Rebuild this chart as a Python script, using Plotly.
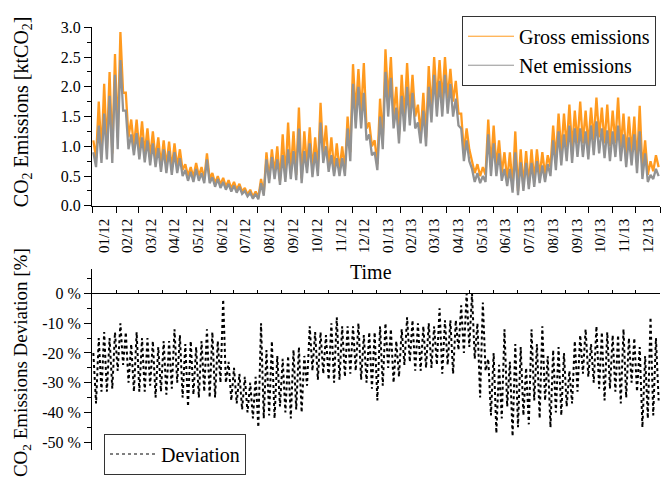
import numpy as np
import pandas as pd
import plotly.graph_objects as go

# Weekly extremes (high / low) of the hourly emission series, 2012-2013 (105 weeks)
gross_hi = [1.1, 1.75, 2.05, 2.25, 2.55, 2.92, 1.9, 1.45, 1.45, 1.42, 1.3, 1.25, 1.15, 1.1, 1.08, 1.05, 0.95,
            0.7, 0.65, 0.72, 0.65, 0.88, 0.55, 0.5, 0.47, 0.43, 0.4, 0.37, 0.3, 0.27, 0.24, 0.45, 0.9, 0.95,
            1.0, 1.2, 1.4, 1.25, 1.65, 1.25, 1.32, 1.15, 1.73, 1.35, 1.15, 1.05, 1.0, 1.5, 2.38, 2.3, 2.4,
            1.4, 1.1, 1.8, 2.63, 2.5, 2.0, 2.2, 2.4, 2.2, 1.7, 1.9, 2.35, 2.5, 2.45, 2.5, 2.3, 2.1, 1.55,
            1.3, 0.75, 0.7, 0.65, 1.45, 1.35, 1.1, 0.9, 0.9, 1.25, 0.95, 0.92, 0.95, 0.95, 0.9, 0.85, 1.35,
            1.55, 1.55, 1.7, 1.6, 1.75, 1.6, 1.65, 1.82, 1.65, 1.7, 1.6, 1.82, 1.55, 1.5, 1.5, 1.68, 1.1,
            0.75, 0.85]
gross_lo = [0.8, 0.88, 0.95, 0.88, 1.15, 1.9, 1.15, 1.0, 0.92, 0.88, 0.82, 0.78, 0.68, 0.66, 0.62, 0.65, 0.6,
            0.5, 0.48, 0.5, 0.45, 0.45, 0.38, 0.36, 0.32, 0.29, 0.27, 0.24, 0.19, 0.15, 0.14, 0.2, 0.45, 0.55,
            0.42, 0.48, 0.55, 0.52, 0.46, 0.66, 0.58, 0.6, 0.85, 0.68, 0.6, 0.6, 0.6, 0.9, 1.55, 1.55, 1.3,
            1.0, 0.7, 1.1, 1.75, 1.5, 1.2, 1.45, 1.55, 1.5, 1.2, 1.15, 1.6, 1.75, 1.75, 1.8, 1.75, 1.55, 0.9,
            0.95, 0.55, 0.5, 0.52, 0.65, 0.65, 0.55, 0.42, 0.3, 0.25, 0.33, 0.36, 0.42, 0.5, 0.52, 0.65, 0.78,
            0.9, 0.98, 0.95, 1.05, 1.05, 1.0, 1.1, 1.15, 1.05, 1.0, 1.05, 0.98, 0.85, 0.88, 0.72, 0.6, 0.52,
            0.58, 0.65]
net_hi = [0.9, 1.35, 1.55, 1.85, 2.2, 2.45, 1.6, 1.2, 1.22, 1.15, 1.1, 1.05, 0.97, 0.95, 0.92, 0.9, 0.8,
          0.6, 0.57, 0.62, 0.55, 0.78, 0.48, 0.45, 0.4, 0.37, 0.34, 0.32, 0.25, 0.22, 0.2, 0.38, 0.78, 0.82,
          0.78, 0.85, 0.95, 0.92, 1.3, 0.92, 1.05, 0.9, 1.4, 1.0, 0.85, 0.8, 0.8, 1.3, 2.05, 2.0, 1.9,
          1.2, 0.9, 1.5, 2.25, 2.15, 1.65, 1.85, 2.0, 1.9, 1.4, 1.6, 2.0, 2.2, 2.1, 2.2, 2.05, 1.8, 1.3,
          1.1, 0.62, 0.55, 0.5, 1.2, 1.05, 0.88, 0.62, 0.62, 0.9, 0.73, 0.72, 0.72, 0.75, 0.68, 0.7, 1.1,
          1.25, 1.2, 1.35, 1.3, 1.3, 1.25, 1.35, 1.42, 1.3, 1.27, 1.25, 1.35, 1.2, 1.15, 1.2, 1.25, 0.88,
          0.52, 0.62]
net_lo = [0.65, 0.72, 0.78, 0.72, 0.95, 1.6, 0.95, 0.85, 0.78, 0.73, 0.68, 0.65, 0.57, 0.55, 0.52, 0.55, 0.5,
          0.42, 0.4, 0.42, 0.38, 0.38, 0.32, 0.3, 0.27, 0.24, 0.22, 0.2, 0.16, 0.12, 0.11, 0.17, 0.38, 0.45,
          0.35, 0.4, 0.45, 0.43, 0.38, 0.55, 0.48, 0.5, 0.72, 0.57, 0.5, 0.5, 0.5, 0.75, 1.3, 1.3, 1.1,
          0.85, 0.6, 0.95, 1.5, 1.3, 1.05, 1.25, 1.35, 1.3, 1.05, 1.0, 1.4, 1.5, 1.5, 1.55, 1.5, 1.35, 0.75,
          0.75, 0.4, 0.38, 0.4, 0.5, 0.5, 0.42, 0.33, 0.22, 0.18, 0.25, 0.28, 0.32, 0.38, 0.4, 0.5, 0.6,
          0.68, 0.75, 0.72, 0.82, 0.82, 0.78, 0.85, 0.88, 0.8, 0.75, 0.82, 0.75, 0.65, 0.68, 0.55, 0.45, 0.4,
          0.45, 0.5]
# Weekly extremes of the net/gross deviation in percent
dev_hi = [-20, -15, -13, -15, -13, -10, -13, -17, -13, -15, -15, -16, -18, -16, -16, -12, -14, -17, -16,
          -18, -16, -12, -13, -16, -2, -23, -25, -27, -28, -30, -28, -10, -19, -16, -21, -22, -21, -19,
          -18, -21, -11, -13, -13, -14, -10, -8, -11, -11, -11, -10, -14, -13, -13,
          -11, -10, -12, -16, -12, -8, -9, -10, -11, -10, -11, -5, -9, -9, -9, -4, 0, 0, -10, -3, -22,
          -20, -24, -12, -23, -17, -18, -25, -12, -17, -11, -21, -19, -18, -20, -26, -16, -14, -12, -17,
          -11, -13, -13, -14, -14, -12, -15, -15, -18, -21, -8, -15]
dev_lo = [-37, -33, -33, -32, -26, -24, -30, -33, -33, -33, -31, -35, -33, -34, -32, -30, -35, -38, -34,
          -35, -33, -35, -35, -30, -30, -36, -37, -39, -40, -42, -45, -42, -41, -42, -38, -40, -42, -39,
          -40, -31, -26, -29, -27, -29, -30, -29, -28, -27, -26, -29, -30, -32, -36,
          -31, -25, -30, -28, -24, -23, -26, -26, -25, -25, -24, -27, -24, -27, -19, -20, -18, -22, -35,
          -26, -41, -47, -42, -38, -48, -45, -41, -44, -36, -42, -36, -45, -40, -41, -38, -37, -33, -27,
          -28, -30, -32, -36, -32, -33, -37, -35, -30, -33, -45, -42, -41, -36]

emis_ticks = [0.0, 0.5, 1.0, 1.5, 2.0, 2.5, 3.0]
emis_labels = ["0.0", "0.5", "1.0", "1.5", "2.0", "2.5", "3.0"]
dev_ticks = [-50, -40, -30, -20, -10, 0]
dev_labels = ["-50 %", "-40 %", "-30 %", "-20 %", "-10 %", "0 %"]

START, END = "2012-01-01", "2014-01-01"


def zigzag(hi, lo):
    """Interleave weekly high/low values along the two-year time line."""
    vals = np.column_stack([hi, lo]).ravel()
    n = len(vals)
    span = (pd.Timestamp(END) - pd.Timestamp(START)).total_seconds()
    offs = (np.arange(n) + 0.5) / n * span
    t = pd.Timestamp(START) + pd.to_timedelta(offs, unit="s")
    return t, vals


W, H = 662, 484
FONT = "Liberation Serif"

# plot-area geometry (pixels)
L, R = 92, 660
T1, B1 = 20, 205
T2, B2 = 270, 458
DEV_RANGE = [-52.6, 8.4]

fig = go.Figure()
for hi, lo, name, color, width, dash, legend, xa, ya in [
    (gross_hi, gross_lo, "Gross emissions", "#FF9A1F", 2.3, "solid", "legend", "x", "y"),
    (net_hi, net_lo, "Net emissions", "#929292", 2.3, "solid", "legend", "x", "y"),
    (dev_hi, dev_lo, "Deviation", "#000000", 2.0, "dot", "legend2", "x2", "y2"),
]:
    t, v = zigzag(hi, lo)
    fig.add_trace(go.Scatter(x=t, y=v, mode="lines", showlegend=False,
                             line=dict(color=color, width=width, dash=dash),
                             xaxis=xa, yaxis=ya))
    # thin legend key for the series
    fig.add_trace(go.Scatter(x=[None], y=[None], mode="lines", name=name, legend=legend,
                             line=dict(color=color, width=1, dash=dash),
                             xaxis=xa, yaxis=ya))

ydom1 = [1 - B1 / H, 1 - T1 / H]
ydom2 = [1 - B2 / H, 1 - T2 / H]
zero_pos = ydom2[0] + (0 - DEV_RANGE[0]) / (DEV_RANGE[1] - DEV_RANGE[0]) * (ydom2[1] - ydom2[0])

axis_font = dict(family=FONT, size=16, color="black")

fig.update_layout(
    width=W, height=H,
    margin=dict(l=0, r=0, t=0, b=0),
    paper_bgcolor="white", plot_bgcolor="white",
    font=dict(family=FONT, color="black"),
    xaxis=dict(domain=[L / W, R / W], range=[START, END], anchor="y",
               showline=True, linecolor="black", linewidth=1, mirror=False,
               showgrid=False, zeroline=False,
               ticks="outside", ticklen=6, tickcolor="black",
               dtick="M1", tick0=START, tickformat="%m/%y", ticklabelmode="period",
               tickangle=-90, tickfont=dict(family=FONT, size=15, color="black")),
    yaxis=dict(domain=ydom1, range=[0, 3.0], anchor="x",
               showline=True, linecolor="black", linewidth=1,
               showgrid=False, zeroline=False,
               ticks="outside", ticklen=7, tickcolor="black",
               tickmode="array", tickvals=emis_ticks, ticktext=emis_labels,
               tickfont=axis_font,
               minor=dict(tickmode="array", tickvals=[0.25, 0.75, 1.25, 1.75, 2.25, 2.75],
                          ticks="outside", ticklen=4, tickcolor="black")),
    xaxis2=dict(domain=[L / W, R / W], range=[START, END], anchor="free", position=zero_pos,
                showline=True, linecolor="black", linewidth=1,
                showgrid=False, zeroline=False, showticklabels=False,
                ticks="inside", ticklen=3, tickcolor="black", dtick="M1", tick0=START),
    yaxis2=dict(domain=ydom2, range=DEV_RANGE, anchor="x2",
                showline=True, linecolor="black", linewidth=1,
                showgrid=False, zeroline=False,
                ticks="outside", ticklen=7, tickcolor="black",
                tickmode="array", tickvals=dev_ticks, ticktext=dev_labels,
                tickfont=axis_font,
                minor=dict(tickmode="array", tickvals=[-45, -35, -25, -15, -5, 5],
                           ticks="outside", ticklen=4, tickcolor="black")),
    legend=dict(x=462 / W, y=1 - 8 / H, xanchor="left", yanchor="top", traceorder="normal",
                bgcolor="white", bordercolor="#333333", borderwidth=1,
                font=dict(family=FONT, size=20, color="black"),
                tracegroupgap=0, itemwidth=46),
    legend2=dict(x=104 / W, y=1 - 441 / H, xanchor="left", yanchor="top",
                 bgcolor="white", bordercolor="#333333", borderwidth=1,
                 font=dict(family=FONT, size=20, color="black"), itemwidth=46),
    showlegend=True,
)

title_font = dict(family=FONT, size=20, color="black")
fig.add_annotation(text="CO<sub>2</sub> Emissions [ktCO<sub>2</sub>]", textangle=-90,
                   xref="paper", yref="paper", x=22 / W, y=1 - 108 / H,
                   xanchor="center", yanchor="middle", showarrow=False, font=title_font)
fig.add_annotation(text="CO<sub>2</sub> Emissions Deviation [%]", textangle=-90,
                   xref="paper", yref="paper", x=22 / W, y=1 - 368 / H,
                   xanchor="center", yanchor="middle", showarrow=False,
                   font=dict(family=FONT, size=19, color="black"))
fig.add_annotation(text="Time", xref="paper", yref="paper", x=371 / W, y=1 - 274 / H,
                   xanchor="center", yanchor="middle", showarrow=False, font=title_font)

fig.write_html("out.html")
